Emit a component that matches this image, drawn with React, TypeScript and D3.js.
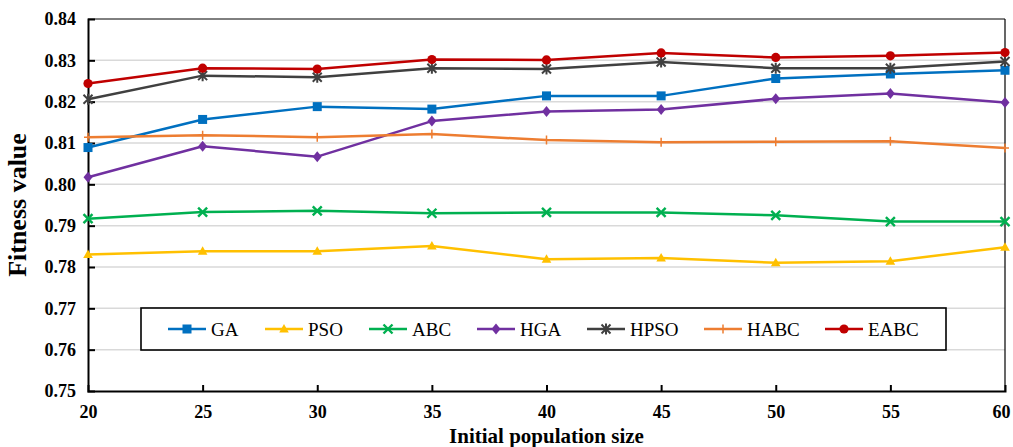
import React, { useRef, useEffect } from "react";
import * as d3 from "d3";

// population sizes on the x axis
const sizes = [20, 25, 30, 35, 40, 45, 50, 55, 60];
const yTicks = [0.75, 0.76, 0.77, 0.78, 0.79, 0.8, 0.81, 0.82, 0.83, 0.84];

const gaVals = [0.8089, 0.8157, 0.8188, 0.8182, 0.8214, 0.8214, 0.8256, 0.8267, 0.8276];
const psoVals = [0.7830, 0.7838, 0.7838, 0.7851, 0.7819, 0.7822, 0.7810, 0.7814, 0.7848];
const abcVals = [0.7917, 0.7933, 0.7936, 0.7930, 0.7932, 0.7932, 0.7925, 0.7910, 0.7910];
const hgaVals = [0.8017, 0.8092, 0.8067, 0.8153, 0.8176, 0.8181, 0.8207, 0.8220, 0.8198];
const hpsoVals = [0.8206, 0.8263, 0.8259, 0.8281, 0.8279, 0.8296, 0.8281, 0.8281, 0.8297];
const habcVals = [0.8114, 0.8119, 0.8114, 0.8122, 0.8107, 0.8102, 0.8103, 0.8104, 0.8088];
const eabcVals = [0.8244, 0.8281, 0.8279, 0.8302, 0.8301, 0.8318, 0.8307, 0.8311, 0.8319];

const seriesNames = ["GA", "PSO", "ABC", "HGA", "HPSO", "HABC", "EABC"];
const seriesColors = ["#0070C0", "#FFC000", "#00B050", "#7030A0", "#404040", "#ED7D31", "#C00000"];
const seriesMarkers = ["square", "triangle", "cross", "diamond", "star", "plus", "circle"];
const seriesValues = [gaVals, psoVals, abcVals, hgaVals, hpsoVals, habcVals, eabcVals];

const FONT = "'Liberation Serif', 'Times New Roman', serif";

function drawMarker(g: any, kind: string, x: number, y: number, color: string) {
  if (kind === "square") {
    g.append("rect").attr("x", x - 4.5).attr("y", y - 4.5).attr("width", 9).attr("height", 9).attr("fill", color);
  } else if (kind === "circle") {
    g.append("circle").attr("cx", x).attr("cy", y).attr("r", 4.6).attr("fill", color);
  } else if (kind === "triangle") {
    g.append("path").attr("d", `M${x},${y - 5}L${x + 4.8},${y + 3.5}L${x - 4.8},${y + 3.5}Z`).attr("fill", color);
  } else if (kind === "diamond") {
    g.append("path").attr("d", `M${x},${y - 5.5}L${x + 4.5},${y}L${x},${y + 5.5}L${x - 4.5},${y}Z`).attr("fill", color);
  } else if (kind === "cross") {
    g.append("path").attr("d", `M${x - 4.5},${y - 4.5}L${x + 4.5},${y + 4.5}M${x - 4.5},${y + 4.5}L${x + 4.5},${y - 4.5}`)
      .attr("stroke", color).attr("stroke-width", 2.4).attr("fill", "none");
  } else if (kind === "star") {
    g.append("path").attr("d", `M${x - 4.5},${y - 4.5}L${x + 4.5},${y + 4.5}M${x - 4.5},${y + 4.5}L${x + 4.5},${y - 4.5}M${x},${y - 5.5}L${x},${y + 5.5}`)
      .attr("stroke", color).attr("stroke-width", 2).attr("fill", "none");
  } else if (kind === "plus") {
    g.append("path").attr("d", `M${x - 4},${y}L${x + 4},${y}M${x},${y - 4.5}L${x},${y + 4.5}`)
      .attr("stroke", color).attr("stroke-width", 1.5).attr("fill", "none");
  }
}

export default function App() {
  const svgRef = useRef<SVGSVGElement>(null);

  useEffect(() => {
    const W = 1013, H = 447;
    const margin = { top: 19, right: 8, bottom: 56, left: 88 };
    const w = W - margin.left - margin.right;
    const h = H - margin.top - margin.bottom;

    const svg = d3.select(svgRef.current);
    svg.selectAll("*").remove();
    svg.attr("width", W).attr("height", H);

    const x = d3.scaleLinear().domain([20, 60]).range([0, w]);
    const y = d3.scaleLinear().domain([0.75, 0.84]).range([h, 0]);

    const g = svg.append("g").attr("transform", `translate(${margin.left},${margin.top})`);

    // gridlines
    g.append("g").selectAll("line").data(yTicks.slice(1, -1)).join("line")
      .attr("x1", 0).attr("x2", w).attr("y1", d => y(d)).attr("y2", d => y(d))
      .attr("stroke", "#D9D9D9").attr("stroke-width", 1.5);

    // top & right frame
    g.append("line").attr("x1", 0).attr("x2", w).attr("y1", 0).attr("y2", 0).attr("stroke", "#000").attr("stroke-width", 1);
    g.append("line").attr("x1", w).attr("x2", w).attr("y1", 0).attr("y2", h).attr("stroke", "#000").attr("stroke-width", 1.2);

    // axes
    const yAxis = g.append("g").call(
      d3.axisLeft(y).tickValues(yTicks).tickSize(-7).tickPadding(12).tickFormat(d3.format(".2f"))
    );
    const xAxis = g.append("g").attr("transform", `translate(0,${h})`).call(
      d3.axisBottom(x).tickValues(sizes).tickSize(-6).tickPadding(14).tickFormat(d3.format("d"))
    );
    [yAxis, xAxis].forEach(a => {
      a.select(".domain").attr("stroke", "#000").attr("stroke-width", 2);
      a.selectAll(".tick line").attr("stroke", "#000").attr("stroke-width", 2);
      a.selectAll(".tick text").attr("font-family", FONT).attr("font-size", 18).attr("font-weight", "bold").attr("fill", "#000");
    });
    yAxis.selectAll(".tick").filter((d: any) => d === 0.84 || d === 0.75).select("line").remove();
    xAxis.selectAll(".tick").filter((d: any) => d === 20 || d === 60).select("line").remove();
    xAxis.selectAll(".tick").filter((d: any) => d === 60).select("text").attr("dx", -4);

    // series lines + markers
    const line = d3.line<number>().x((_, i) => x(sizes[i])).y(d => y(d));
    seriesValues.forEach((vals, si) => {
      const sg = g.append("g");
      sg.append("path").datum(vals).attr("d", line).attr("fill", "none")
        .attr("stroke", seriesColors[si]).attr("stroke-width", 2.5).attr("stroke-linejoin", "round");
      vals.forEach((v, i) => drawMarker(sg, seriesMarkers[si], x(sizes[i]), y(v), seriesColors[si]));
    });

    // legend
    const leg = svg.append("g").attr("transform", "translate(141,308)");
    leg.append("rect").attr("width", 805).attr("height", 42).attr("fill", "#fff")
      .attr("stroke", "#000").attr("stroke-width", 1.6);
    const legX = [27, 124, 228, 336, 446, 563, 684];
    seriesNames.forEach((name, i) => {
      const lg = leg.append("g").attr("transform", `translate(${legX[i]},21)`);
      lg.append("line").attr("x1", 0).attr("x2", 38).attr("y1", 0).attr("y2", 0)
        .attr("stroke", seriesColors[i]).attr("stroke-width", 2.5);
      drawMarker(lg, seriesMarkers[i], 19, 0, seriesColors[i]);
      lg.append("text").attr("x", 43).attr("y", 6.5).text(name)
        .attr("font-family", FONT).attr("font-size", 19).attr("fill", "#000");
    });

    // axis titles
    svg.append("text").attr("x", margin.left + w / 2).attr("y", 443).attr("text-anchor", "middle")
      .attr("font-family", FONT).attr("font-size", 21).attr("font-weight", "bold").text("Initial population size");
    svg.append("text").attr("transform", `translate(26,${margin.top + h / 2}) rotate(-90)`).attr("text-anchor", "middle")
      .attr("font-family", FONT).attr("font-size", 26).attr("font-weight", "bold").text("Fitness value");
  }, []);

  return (
    <div>
      <style>{"body{margin:0;background:#fff}"}</style>
      <svg ref={svgRef} style={{ display: "block" }} />
    </div>
  );
}
